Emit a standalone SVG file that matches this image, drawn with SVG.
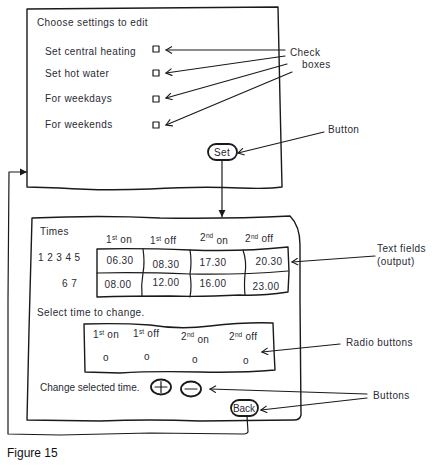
<svg xmlns="http://www.w3.org/2000/svg" width="444" height="470" viewBox="0 0 444 470">
<style>
.ln{fill:none;stroke:#1a1a1a;stroke-width:1.2;stroke-linejoin:round;stroke-linecap:round}
.bx{fill:none;stroke:#1a1a1a;stroke-width:1.4;stroke-linejoin:round}
.btn{fill:#fff;stroke:#1a1a1a;stroke-width:1.8}
.t{font-family:"Liberation Sans",Arial,sans-serif;font-size:10px;letter-spacing:0.4px;fill:#2a2a33}
.c{text-anchor:middle}
.s{font-size:6.5px;letter-spacing:0}
.cap{font-family:"Liberation Sans",Arial,sans-serif;font-size:12px;fill:#111}
</style>
<defs>
<marker id="open" markerWidth="8" markerHeight="8" refX="7" refY="4" orient="auto" markerUnits="userSpaceOnUse">
<path d="M1,0.5 L7,4 L1,7.5" fill="none" stroke="#1a1a1a" stroke-width="1.1"/>
</marker>
<marker id="fill" markerWidth="8" markerHeight="8" refX="7" refY="4" orient="auto" markerUnits="userSpaceOnUse">
<path d="M0,0.5 L7,4 L0,7.5 Z" fill="#1a1a1a"/>
</marker>
</defs>

<g id="settings-screen">
<path class="bx" d="M27,9 L278,7 L280,100 L282,187 Q270,189 240,188 Q200,186 150,189 Q100,191 60,188 L27,187 Z"/>
<text class="t" x="37" y="26">Choose settings to edit</text>
<text class="t" x="45" y="55">Set central heating</text>
<text class="t" x="45" y="77">Set hot water</text>
<text class="t" x="45" y="102">For weekdays</text>
<text class="t" x="45" y="128">For weekends</text>
<rect class="ln" x="153" y="46" width="6" height="6"/>
<rect class="ln" x="153" y="70" width="6" height="6"/>
<rect class="ln" x="153" y="96" width="6" height="6"/>
<rect class="ln" x="153" y="122" width="6" height="6"/>
</g>

<g id="set-button">
<rect class="btn" x="208" y="144" width="29" height="16" rx="8"/>
<text class="t c" x="222" y="156">Set</text>
</g>

<g id="times-screen">
<path class="bx" d="M32,218 Q100,215 160,218 Q230,219 290,216 Q300,226 300,245 L300,300 L301,415 Q300,420 294,420 L200,421 Q150,419 100,421 L27,420 L29,330 Z"/>
<text class="t" x="40" y="235">Times</text>
<text class="t" x="106" y="243">1<tspan class="s" dy="-3">st</tspan><tspan dy="3"> on</tspan></text>
<text class="t" x="150" y="244">1<tspan class="s" dy="-3">st</tspan><tspan dy="3"> off</tspan></text>
<text class="t" x="200" y="243"><tspan dy="-2">2</tspan><tspan class="s" dy="-3">nd</tspan><tspan dy="6"> on</tspan></text>
<text class="t" x="245" y="242">2<tspan class="s" dy="-3">nd</tspan><tspan dy="3"> off</tspan></text>
<text class="t" x="38" y="261">1 2 3 4 5</text>
<text class="t" x="62" y="287">6 7</text>
</g>

<g id="time-table">
<path class="bx" d="M97,249 Q140,248 190,250 Q240,252 288,247 L289,272 L288,292 Q260,296 240,295 Q200,297 170,296 Q130,296 97,297 Z"/>
<path class="ln" d="M97,273 Q140,272 190,274 Q240,275 288,271"/>
<path class="ln" d="M143,249 Q145,262 143,273 Q141,285 142,296"/>
<path class="ln" d="M190,250 Q192,262 190,274 Q192,286 190,297"/>
<path class="ln" d="M243,250 Q247,262 245,274 Q244,286 245,295"/>
<text class="t c" x="120" y="264">06.30</text>
<text class="t c" x="166" y="268">08.30</text>
<text class="t c" x="213" y="266">17.30</text>
<text class="t c" x="269" y="265">20.30</text>
<text class="t c" x="118" y="288">08.00</text>
<text class="t c" x="166" y="286">12.00</text>
<text class="t c" x="213" y="287">16.00</text>
<text class="t c" x="266" y="290">23.00</text>
</g>

<text class="t" x="37" y="316">Select time to change.</text>

<g id="radio-group">
<path class="bx" d="M84,324 Q120,323 150,325 Q180,330 210,326 Q245,322 273,323 L274,350 L275,370 Q240,373 200,372 Q150,371 120,373 L85,372 Z"/>
<text class="t" x="93" y="338">1<tspan class="s" dy="-3">st</tspan><tspan dy="3"> on</tspan></text>
<text class="t" x="133" y="337">1<tspan class="s" dy="-3">st</tspan><tspan dy="3"> off</tspan></text>
<text class="t" x="181" y="342"><tspan dy="-2">2</tspan><tspan class="s" dy="-3">nd</tspan><tspan dy="6"> on</tspan></text>
<text class="t" x="229" y="340">2<tspan class="s" dy="-3">nd</tspan><tspan dy="3"> off</tspan></text>
<text class="t c" x="106" y="361">o</text>
<text class="t c" x="147" y="360">o</text>
<text class="t c" x="195" y="363">o</text>
<text class="t c" x="246" y="364">o</text>
</g>

<text class="t" x="40" y="391" style="letter-spacing:0">Change selected time.</text>

<g id="plus-button">
<ellipse class="btn" cx="161" cy="387" rx="10" ry="7.5"/>
<path class="ln" d="M155,387 H167 M161,381.5 V392.5"/>
</g>
<g id="minus-button">
<ellipse class="btn" cx="191" cy="389" rx="10" ry="7.5"/>
<path class="ln" d="M185,389 H197"/>
</g>
<g id="back-button">
<rect class="btn" x="231" y="400" width="27" height="16" rx="8"/>
<text class="t c" x="244" y="412" style="letter-spacing:0">Back</text>
</g>

<g id="labels">
<text class="t" x="290" y="56">Check</text>
<text class="t" x="302" y="68">boxes</text>
<text class="t" x="328" y="133">Button</text>
<text class="t" x="377" y="252">Text fields</text>
<text class="t" x="377" y="265">(output)</text>
<text class="t" x="346" y="346">Radio buttons</text>
<text class="t" x="373" y="399">Buttons</text>
</g>

<g id="connectors">
<path class="ln" d="M285,50 L166,50" marker-end="url(#open)"/>
<path class="ln" d="M285,56 L166,73" marker-end="url(#open)"/>
<path class="ln" d="M287,64 L166,98" marker-end="url(#open)"/>
<path class="ln" d="M292,72 L166,125" marker-end="url(#open)"/>
<path class="ln" d="M324,132 L238,153" marker-end="url(#open)"/>
<path class="ln" d="M222,160 L222,217" marker-end="url(#fill)"/>
<path class="ln" d="M375,256 L292,262" marker-end="url(#open)"/>
<path class="ln" d="M340,344 L262,352" marker-end="url(#open)"/>
<path class="ln" d="M367,394 L210,389" marker-end="url(#open)"/>
<path class="ln" d="M367,398 L261,410" marker-end="url(#open)"/>
<path class="ln" d="M247,416 L248,432 Q247,434 244,434 L150,433 L60,435 L8,434 L8,300 L9,172 L27,172" marker-end="url(#fill)"/>
</g>

<text class="cap" x="7" y="457">Figure 15</text>
</svg>
